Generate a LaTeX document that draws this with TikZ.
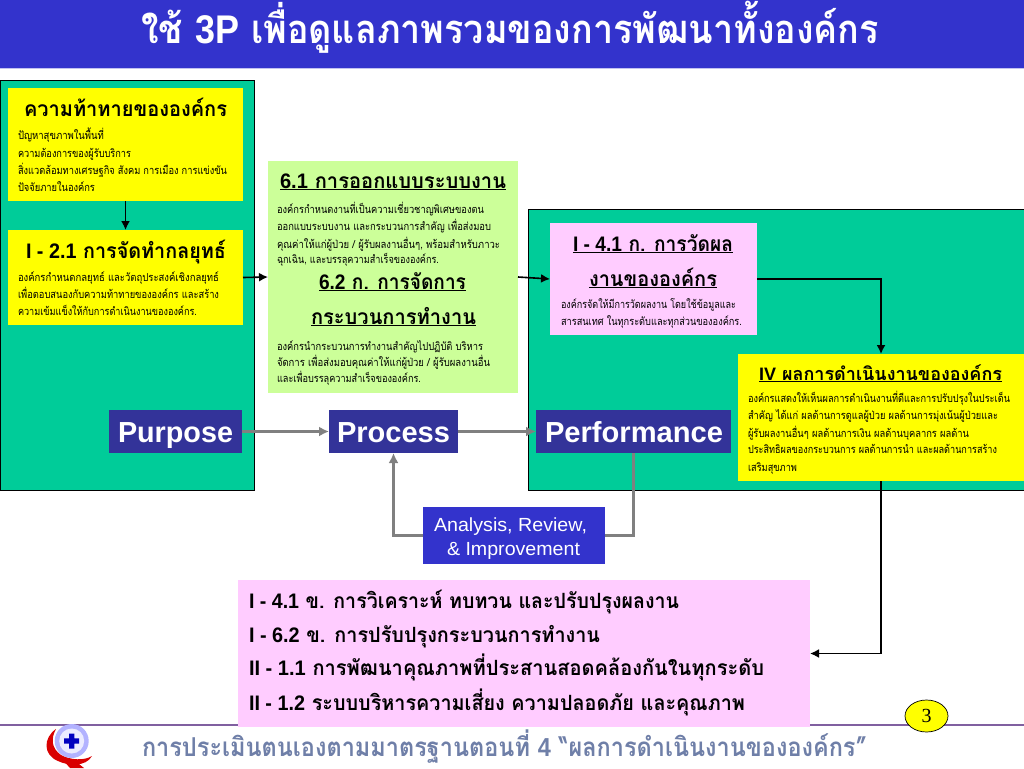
\documentclass[tikz,border=0pt]{standalone}
\usepackage{fontspec}
\usepackage{graphicx}
\usetikzlibrary{arrows.meta,shapes.geometric}
\setmainfont{Liberation Sans}
\newfontfamily\thaif[Script=Thai]{Loma}
\newfontfamily\latf{Liberation Sans}
\newfontfamily\serf{Liberation Serif}
\definecolor{hdrblue}{HTML}{3333CC}
\definecolor{navyb}{HTML}{333399}
\definecolor{seag}{HTML}{00CC99}
\definecolor{yel}{HTML}{FFFF00}
\definecolor{lgr}{HTML}{CCFF99}
\definecolor{pnk}{HTML}{FFCCFF}
\definecolor{grayl}{HTML}{808080}
\definecolor{footc}{HTML}{6F7FA8}
\definecolor{footl}{HTML}{8060A0}
\tikzset{
  bx/.style={anchor=north west,inner sep=0pt,outer sep=0pt},
  txt/.style={anchor=base west,inner sep=0pt,outer sep=0pt},
  blk/.style={draw=black,line width=1.6pt,-{Latex[length=9pt,width=9pt]}},
  gry/.style={draw=grayl,line width=3pt,-{Latex[length=10pt,width=10pt]}},
  gryp/.style={draw=grayl,line width=3pt},
}
% box: name, x0, y0, x1, y1, style
\newcommand\bxx[6]{\pgfmathsetmacro\bw{#4-#2}\pgfmathsetmacro\bh{#5-#3}%
  \node[bx,minimum width=\bw pt,minimum height=\bh pt,#6] (#1) at (#2,#3) {};}
% text line: name, x, baseline, width, font, text
\newcommand\tln[6]{\node[txt] (#1) at (#2,#3) {\resizebox{#4pt}{\height}{#5#6}};}
\newcommand\bodyf{\fontsize{11}{13}\selectfont\thaif}
\newcommand\headf{\fontsize{21}{25}\selectfont\thaif\bfseries}
\newcommand\pnkf{\fontsize{21}{25}\selectfont\thaif\bfseries}
\newcommand\biglat{\fontsize{29}{32}\selectfont\latf\bfseries\color{white}}
\begin{document}
\begin{tikzpicture}[x=1pt,y=-1pt]
\useasboundingbox (0,0) rectangle (1024,768);
\fill[white] (0,0) rectangle (1024,768);
% header
\bxx{hdr}{0}{0}{1024}{68}{fill=hdrblue}
\draw[white!70!hdrblue,line width=1pt] (0,68) -- (1024,68);
\tln{title}{141}{44}{738}{\fontsize{40}{44}\selectfont\thaif\bfseries\color{white}}{ใช้ {\latf 3P} เพื่อดูแลภาพรวมของการพัฒนาทั้งองค์กร}
% footer line
\coordinate (fl) at (0,725); \coordinate (fr) at (1024,725);
\draw[footl,line width=2pt] (fl) -- (fr);
% big areas
\bxx{leftg}{0}{80}{254}{490}{fill=seag,draw=black,line width=1pt}
\bxx{rightg}{528}{209}{1025}{490}{fill=seag,draw=black,line width=1pt}
% boxes
\bxx{chal}{8}{88}{243}{201}{fill=yel}
\bxx{strat}{8}{230}{243}{325}{fill=yel}
\bxx{proc6}{268}{161}{518}{393}{fill=lgr}
\bxx{meas}{550}{223}{757}{335}{fill=pnk}
\bxx{res}{738}{354}{1024}{481}{fill=yel}
\bxx{bigp}{238}{580}{810}{727}{fill=pnk}
\bxx{purp}{109}{410}{242}{453}{fill=navyb}
\bxx{proc}{329}{410}{458}{453}{fill=navyb}
\bxx{perf}{536}{410}{731}{453}{fill=navyb}
\bxx{anal}{423}{507}{605}{564}{fill=hdrblue}
% connectors
\draw[blk] (chal.south) -- (strat.north);
\draw[blk] (strat.east) -- (proc6.west);
\draw[blk] (proc6.east) -- (meas.west);
\draw[blk] (meas.east) -| (res.north);
\draw[blk] (res.south) |- (bigp.east);
\draw[gry] (purp.east) -- (proc.west);
\draw[gry] (proc.east) -- (perf.west);
\draw[gryp] (perf.south) |- (anal.east);
\draw[gry] (anal.west) -| (proc.south);
% big labels
\tln{lpurp}{118}{442}{115}{\biglat}{Purpose}
\tln{lproc}{337}{442}{113}{\biglat}{Process}
\tln{lperf}{545}{442}{178}{\biglat}{Performance}
\tln{la1}{434}{531}{153}{\fontsize{19}{22}\selectfont\latf\color{white}}{Analysis, Review,}
\tln{la2}{447}{555}{133}{\fontsize{19}{22}\selectfont\latf\color{white}}{\& Improvement}
% challenge box
\tln{c0}{24}{116}{203}{\headf}{ความท้าทายขององค์กร}
\tln{c1}{18}{139}{86}{\bodyf}{ปัญหาสุขภาพในพื้นที่}
\tln{c2}{18}{157}{113}{\bodyf}{ความต้องการของผู้รับบริการ}
\tln{c3}{18}{174}{209}{\bodyf}{สิ่งแวดล้อมทางเศรษฐกิจ สังคม การเมือง การแข่งขัน}
\tln{c4}{18}{191}{77}{\bodyf}{ปัจจัยภายในองค์กร}
% strategy box
\tln{s0}{26}{258}{200}{\headf}{{\latf I - 2.1} การจัดทำกลยุทธ์}
\tln{s1}{18}{281}{201}{\bodyf}{องค์กรกำหนดกลยุทธ์  และวัตถุประสงค์เชิงกลยุทธ์}
\tln{s2}{18}{298}{201}{\bodyf}{เพื่อตอบสนองกับความท้าทายขององค์กร และสร้าง}
\tln{s3}{18}{315}{179}{\bodyf}{ความเข้มแข็งให้กับการดำเนินงานขององค์กร.}
% process box
\tln{p0}{280}{188}{226}{\headf}{\underline{{\latf 6.1} การออกแบบระบบงาน}}
\tln{p1}{277}{213}{207}{\bodyf}{องค์กรกำหนดงานที่เป็นความเชี่ยวชาญพิเศษของตน}
\tln{p2}{277}{230}{214}{\bodyf}{ออกแบบระบบงาน และกระบวนการสำคัญ เพื่อส่งมอบ}
\tln{p3}{277}{248}{223}{\bodyf}{คุณค่าให้แก่ผู้ป่วย / ผู้รับผลงานอื่นๆ, พร้อมสำหรับภาวะ}
\tln{p4}{277}{263}{162}{\bodyf}{ฉุกเฉิน, และบรรลุความสำเร็จขององค์กร.}
\tln{p5}{319}{289}{147}{\headf}{\underline{{\latf 6.2} ก. การจัดการ}}
\tln{p6}{311}{324}{165}{\headf}{\underline{กระบวนการทำงาน}}
\tln{p7}{277}{350}{206}{\bodyf}{องค์กรนำกระบวนการทำงานสำคัญไปปฏิบัติ บริหาร}
\tln{p8}{277}{366}{213}{\bodyf}{จัดการ เพื่อส่งมอบคุณค่าให้แก่ผู้ป่วย / ผู้รับผลงานอื่น}
\tln{p9}{277}{382}{144}{\bodyf}{และเพื่อบรรลุความสำเร็จขององค์กร.}
% measure box
\tln{m0}{573}{251}{160}{\headf}{\underline{{\latf I - 4.1} ก. การวัดผล}}
\tln{m1}{589}{286}{128}{\headf}{\underline{งานขององค์กร}}
\tln{m2}{561}{308}{175}{\bodyf}{องค์กรจัดให้มีการวัดผลงาน โดยใช้ข้อมูลและ}
\tln{m3}{561}{325}{181}{\bodyf}{สารสนเทศ ในทุกระดับและทุกส่วนขององค์กร.}
% results box
\tln{r0}{759}{380}{243}{\fontsize{18}{22}\selectfont\thaif\bfseries}{\underline{{\latf IV} ผลการดำเนินงานขององค์กร}}
\tln{r1}{748}{402}{262}{\bodyf}{องค์กรแสดงให้เห็นผลการดำเนินงานที่ดีและการปรับปรุงในประเด็น}
\tln{r2}{748}{419}{250}{\bodyf}{สำคัญ ได้แก่ ผลด้านการดูแลผู้ป่วย ผลด้านการมุ่งเน้นผู้ป่วยและ}
\tln{r3}{748}{437}{221}{\bodyf}{ผู้รับผลงานอื่นๆ ผลด้านการเงิน ผลด้านบุคลากร ผลด้าน}
\tln{r4}{748}{453}{249}{\bodyf}{ประสิทธิผลของกระบวนการ ผลด้านการนำ และผลด้านการสร้าง}
\tln{r5}{748}{471}{49}{\bodyf}{เสริมสุขภาพ}
% big pink
\tln{b1}{249}{608}{430}{\pnkf}{{\latf I - 4.1} ข. การวิเคราะห์ ทบทวน และปรับปรุงผลงาน}
\tln{b2}{249}{642}{351}{\pnkf}{{\latf I  - 6.2} ข. การปรับปรุงกระบวนการทำงาน}
\tln{b3}{249}{675}{515}{\pnkf}{{\latf II - 1.1} การพัฒนาคุณภาพที่ประสานสอดคล้องกันในทุกระดับ}
\tln{b4}{249}{710}{496}{\pnkf}{{\latf II - 1.2} ระบบบริหารความเสี่ยง ความปลอดภัย และคุณภาพ}
% page number
\node[draw=black,fill=yel,ellipse,minimum width=43pt,minimum height=32pt,inner sep=0pt,line width=.7pt] (pg) at (926.5,716) {};
\node[inner sep=0pt,font=\fontsize{20}{22}\selectfont\serf] (pgn) at (pg.center) {3};
% footer
\tln{ft}{142}{756}{725}{\fontsize{26}{30}\selectfont\thaif\bfseries\color{footc}}{การประเมินตนเองตามมาตรฐานตอนที่ {\latf 4} “ผลการดำเนินงานขององค์กร”}
% logo
\fill[red!85!black] (56,729) .. controls (43,738) and (43,755) .. (58,761) .. controls (68,766) and (86,767) .. (92,756) .. controls (84,761) and (70,760) .. (61,755) .. controls (51,748) and (51,738) .. (56,729) -- cycle;
\fill[red!85!black] (62,759) -- (70,768) -- (84,768) -- (74,760) -- cycle;
\fill[blue!30!white] (71.7,741) circle (17);
\fill[white!92!blue] (71.7,741) circle (12.5);
\fill[blue!75!black] (69,733.5) rectangle (74.4,748.5) (64.2,738.3) rectangle (79.2,743.7);
\end{tikzpicture}
\end{document}
